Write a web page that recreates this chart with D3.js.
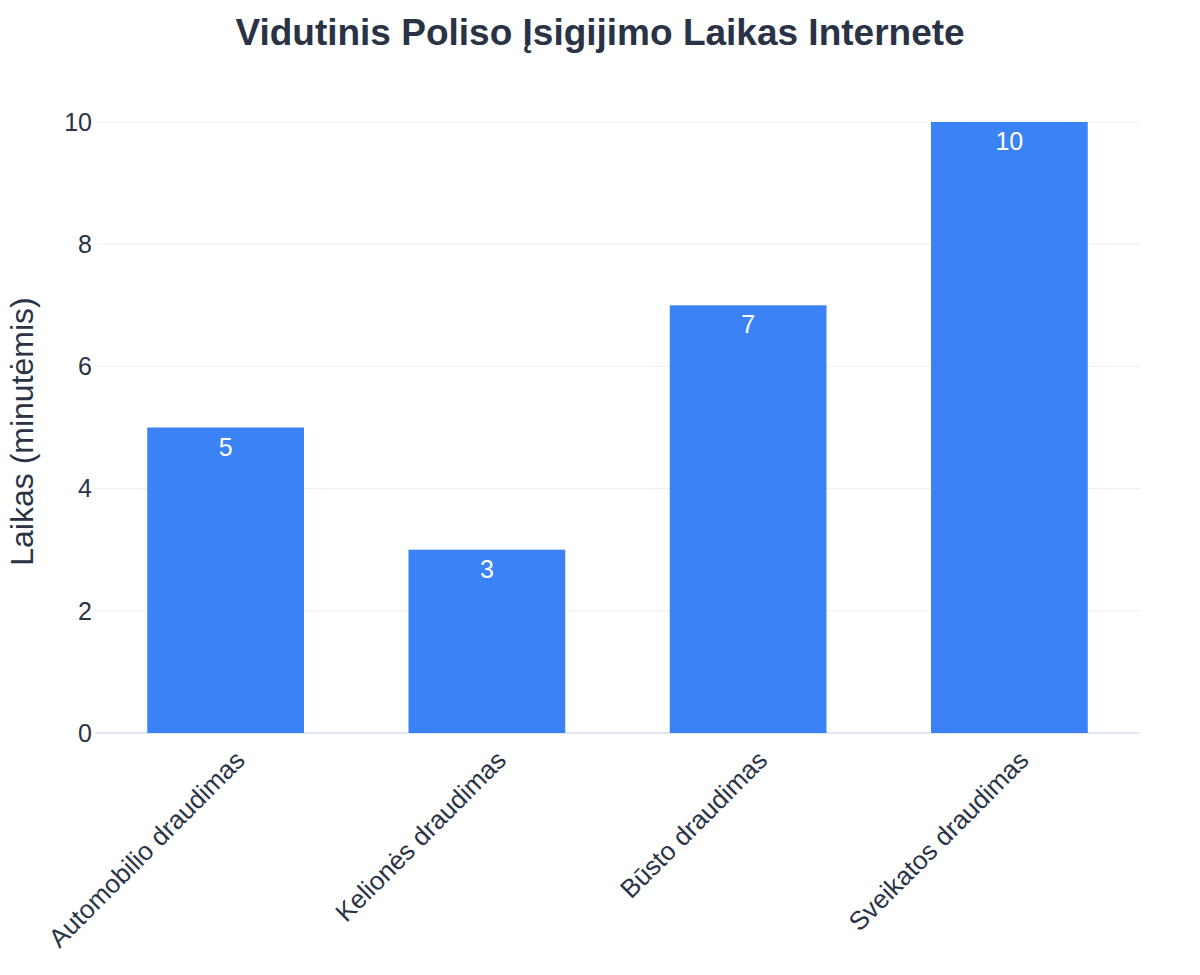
<!DOCTYPE html>
<html>
<head>
<meta charset="utf-8">
<script src="https://cdn.jsdelivr.net/npm/d3@7"></script>
<style>
  body { margin: 0; background: #fff; font-family: "Liberation Sans", Arial, sans-serif; }
</style>
</head>
<body>
<svg id="chart" width="1200" height="975"></svg>
<script>
const categories = ["Automobilio draudimas", "Kelionės draudimas", "Būsto draudimas", "Sveikatos draudimas"];
const values = [5, 3, 7, 10];
const yTicks = [0, 2, 4, 6, 8, 10];

const svg = d3.select('#chart');
const margin = {left: 95, right: 60, top: 122, bottom: 242};
const W = 1200, H = 975;

const x = d3.scaleBand().domain(categories).range([margin.left, W - margin.right])
  .paddingInner(0.4).paddingOuter(0.2);
const y = d3.scaleLinear().domain([0, 10]).range([H - margin.bottom, margin.top]);

// grid
svg.append('g').selectAll('line').data(yTicks).enter().append('line')
  .attr('x1', margin.left).attr('x2', W - margin.right)
  .attr('y1', d => y(d)).attr('y2', d => y(d))
  .attr('stroke', d => d === 0 ? '#e3e6f3' : '#eceef4')
  .attr('stroke-width', d => d === 0 ? 2 : 1);

// y tick labels
svg.append('g').selectAll('text').data(yTicks).enter().append('text')
  .attr('x', margin.left - 3).attr('y', d => y(d)).attr('dy', '0.35em')
  .attr('text-anchor', 'end').attr('font-size', 25).attr('fill', '#2a3346')
  .text(d => d);

// bars
svg.append('g').selectAll('rect').data(values).enter().append('rect')
  .attr('x', (d, i) => x(categories[i])).attr('width', x.bandwidth())
  .attr('y', d => y(d)).attr('height', d => y(0) - y(d))
  .attr('fill', '#3b82f6');

// bar labels
svg.append('g').selectAll('text').data(values).enter().append('text')
  .attr('x', (d, i) => x(categories[i]) + x.bandwidth() / 2)
  .attr('y', d => y(d) + 28)
  .attr('text-anchor', 'middle').attr('font-size', 25).attr('fill', '#fff')
  .text(d => d);

// x labels
svg.append('g').selectAll('text').data(categories).enter().append('text')
  .attr('transform', d => `translate(${x(d) + x.bandwidth() / 2 + 8},${y(0) + 16}) rotate(-45)`)
  .attr('text-anchor', 'end').attr('dy', '0.7em')
  .attr('font-size', 26).attr('fill', '#2a3346')
  .text(d => d);

// y axis title
svg.append('text')
  .attr('transform', `translate(33,${(margin.top + H - margin.bottom) / 2 + 4}) rotate(-90)`)
  .attr('text-anchor', 'middle').attr('font-size', 32).attr('fill', '#2a3346')
  .text('Laikas (minutėmis)');

// title
svg.append('text')
  .attr('x', 600).attr('y', 45).attr('text-anchor', 'middle')
  .attr('font-size', 37).attr('font-weight', 'bold').attr('fill', '#2a3346')
  .text('Vidutinis Poliso Įsigijimo Laikas Internete');
</script>
</body>
</html>
